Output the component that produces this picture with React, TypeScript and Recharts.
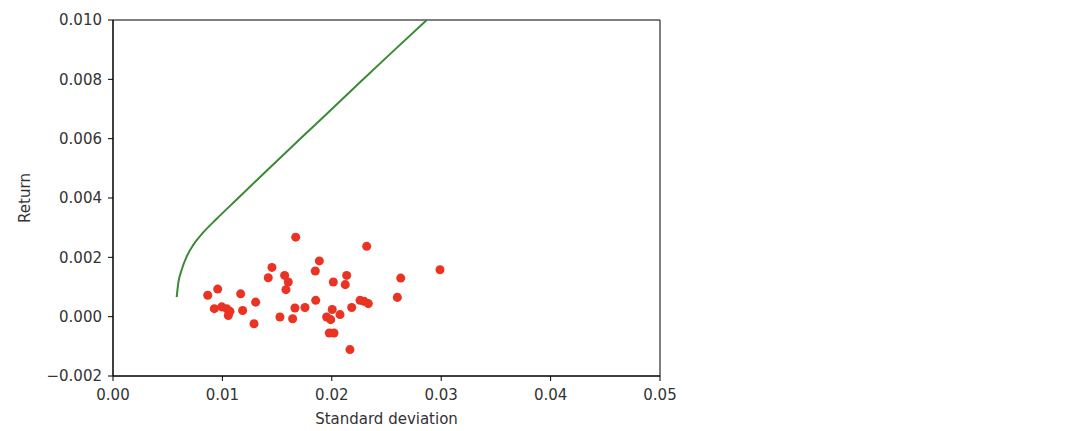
import { ScatterChart, Scatter, XAxis, YAxis, ZAxis, ReferenceArea, Label } from "recharts"

// frontier, (std dev, return)
const frontierSd = [
  0.00582, 0.00597, 0.00628, 0.00674, 0.00734, 0.00825, 0.00948, 0.01131, 0.01314, 0.01496,
  0.01709, 0.01984, 0.02258, 0.02532, 0.02868,
]
const frontierRet = [
  0.00066, 0.00114, 0.00158, 0.00203, 0.00242, 0.00284, 0.0033, 0.00395, 0.0046, 0.00524,
  0.00599, 0.00694, 0.0079, 0.00885, 0.01,
]

// individual assets
const assetSd = [
  0.00866, 0.00957, 0.00926, 0.00994, 0.01039, 0.01069, 0.01054, 0.01167, 0.01185, 0.01304,
  0.01289, 0.01419, 0.01453, 0.01526, 0.01569, 0.01602, 0.01581, 0.01642, 0.0167, 0.01663,
  0.01755, 0.01853, 0.01886, 0.01849, 0.01953, 0.02004, 0.02014, 0.02075, 0.0199, 0.01977,
  0.0202, 0.02136, 0.02123, 0.02166, 0.02182, 0.02258, 0.02294, 0.02334, 0.02319, 0.0263,
  0.02599, 0.02989,
]
const assetRet = [
  0.00072, 0.00093, 0.00027, 0.00033, 0.00027, 0.00018, 0.00004, 0.00077, 0.00021, 0.00049,
  -0.00024, 0.00131, 0.00166, -0.00001, 0.00139, 0.00117, 0.00091, -0.00007, 0.00268, 0.00029,
  0.00031, 0.00055, 0.00188, 0.00154, -0.00001, 0.00024, 0.00117, 0.00007, -0.0001, -0.00055,
  -0.00055, 0.00139, 0.00108, -0.00111, 0.00031, 0.00055, 0.00052, 0.00044, 0.00237, 0.0013,
  0.00065, 0.00158,
]

const xTicks = [0, 0.01, 0.02, 0.03, 0.04, 0.05]
const yTicks = [-0.002, 0, 0.002, 0.004, 0.006, 0.008, 0.01]

const frontier = frontierSd.map((sd, i) => ({ sd, ret: frontierRet[i] }))
const assets = assetSd.map((sd, i) => ({ sd, ret: assetRet[i] }))

const font = "'DejaVu Sans', sans-serif"
const tickStyle = { fontSize: 15, fill: "#333", fontFamily: font }
const minus = (s: string) => s.replace("-", "\u2212")

export default function App() {
  return (
    <div style={{ width: 1072, height: 423 }}>
      <ScatterChart width={1072} height={423} margin={{ top: 12, right: 420, bottom: 15, left: 45 }}>
        <XAxis
          type="number"
          dataKey="sd"
          domain={[0, 0.05]}
          ticks={xTicks}
          tickFormatter={(v: number) => v.toFixed(2)}
          tick={tickStyle}
          tickSize={5}
          tickMargin={8}
          stroke="#000"
          height={40}
          allowDataOverflow
        >
          <Label value="Standard deviation" position="insideBottom" offset={-8} style={{ fontSize: 15, fill: "#333", fontFamily: font }} />
        </XAxis>
        <YAxis
          type="number"
          dataKey="ret"
          domain={[-0.002, 0.01]}
          ticks={yTicks}
          tickFormatter={(v: number) => minus(v.toFixed(3))}
          tick={tickStyle}
          tickSize={5}
          tickMargin={6}
          stroke="#000"
          width={60}
          allowDataOverflow
        >
          <Label value="Return" angle={-90} position="insideLeft" offset={-28} style={{ fontSize: 15, fill: "#333", fontFamily: font, textAnchor: "middle" }} />
        </YAxis>
        <ZAxis range={[110, 110]} />
        <ReferenceArea x1={0} x2={0.05} y1={-0.002} y2={0.01} fill="none" stroke="#000" strokeWidth={1} />
        <Scatter data={frontier} line={{ stroke: "#3a8a34", strokeWidth: 2 }} lineJointType="monotoneX" shape={() => null} isAnimationActive={false} />
        <Scatter data={assets} fill="#ea3323" isAnimationActive={false} />
      </ScatterChart>
    </div>
  )
}
